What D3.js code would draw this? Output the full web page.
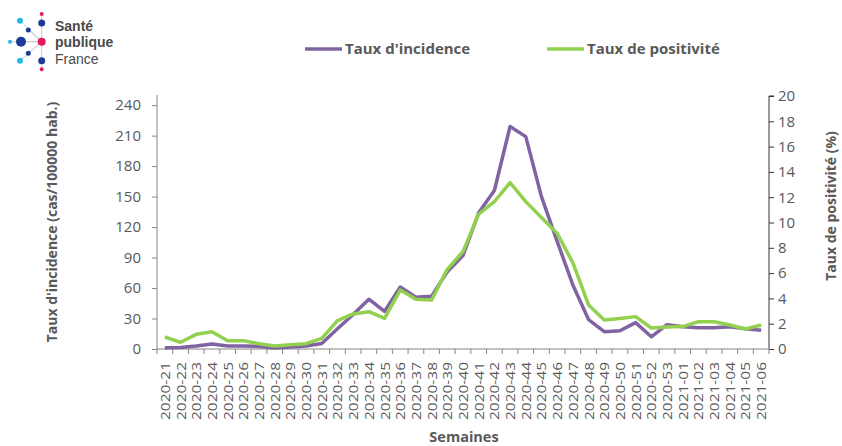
<!DOCTYPE html>
<html><head><meta charset="utf-8">
<script src="https://cdn.jsdelivr.net/npm/d3@7"></script>
<style>body{margin:0;background:#fff}svg{display:block}text{font-family:"Open Sans","DejaVu Sans",sans-serif}</style>
</head><body><svg id="c" width="842" height="446"></svg>
<script>
const weeks = ["2020-21","2020-22","2020-23","2020-24","2020-25","2020-26","2020-27","2020-28","2020-29","2020-30","2020-31","2020-32","2020-33","2020-34","2020-35","2020-36","2020-37","2020-38","2020-39","2020-40","2020-41","2020-42","2020-43","2020-44","2020-45","2020-46","2020-47","2020-48","2020-49","2020-50","2020-51","2020-52","2020-53","2021-01","2021-02","2021-03","2021-04","2021-05","2021-06"];
const incidence = [1.3,1.5,3,5,3,3,2.5,1,2,3,5.5,20,34,49,37,61,51,52,76,92,134,156,219,209,150,106,63,29,17,18,26,12,24,22,21,21,22,20,18.5];
const positivite = [0.95,0.53,1.16,1.37,0.66,0.66,0.42,0.24,0.34,0.42,0.84,2.24,2.77,2.95,2.42,4.66,3.93,3.87,6.3,7.7,10.67,11.65,13.15,11.65,10.4,9.14,6.82,3.48,2.29,2.42,2.56,1.66,1.74,1.77,2.16,2.16,1.9,1.58,1.9];
const leftTicks = [0,30,60,90,120,150,180,210,240];
const rightTicks = [0,2,4,6,8,10,12,14,16,18,20];

const svg = d3.select("#c");
const L = 157, R = 769, B = 349, T = 95;
const gray = "#595959", axisCol = "#868686";
const x = d3.scaleBand().domain(weeks).range([L, R]).padding(0);
const yL = d3.scaleLinear().domain([0, 250]).range([B, T]);
const yR = d3.scaleLinear().domain([0, 20]).range([B, T + 1]);
const cx = d => x(d) + x.bandwidth() / 2;

// left axis
const gL = svg.append("g").attr("transform", `translate(${L},0)`)
  .call(d3.axisLeft(yL).tickValues(leftTicks).tickSize(5).tickPadding(11));
gL.select(".domain").attr("stroke", axisCol).attr("d", `M-0,${B}V${T}`);
gL.selectAll(".tick line").attr("stroke", axisCol);
gL.selectAll(".tick text").attr("fill", gray).style("font-size", "15px");

// right axis
const gR = svg.append("g").attr("transform", `translate(${R},0)`)
  .call(d3.axisRight(yR).tickValues(rightTicks).tickSize(5).tickPadding(4));
gR.select(".domain").attr("stroke", "#333").attr("d", `M0,${B}V${yR(20)}H5`);
gR.selectAll(".tick line").attr("stroke", "#333");
gR.selectAll(".tick text").attr("fill", gray).style("font-size", "15px");

// bottom axis
svg.append("line").attr("x1", L).attr("x2", R).attr("y1", B).attr("y2", B).attr("stroke", axisCol);
svg.append("g").selectAll("line").data(weeks.concat(["__end"])).join("line")
  .attr("x1", d => d === "__end" ? R : x(d)).attr("x2", d => d === "__end" ? R : x(d))
  .attr("y1", B).attr("y2", B + 5).attr("stroke", axisCol);
svg.append("g").selectAll("text").data(weeks).join("text")
  .attr("transform", d => `translate(${cx(d) + 5},362) rotate(-90)`)
  .attr("text-anchor", "end").attr("fill", gray).style("font-size", "13.5px")
  .attr("textLength", 58).attr("lengthAdjust", "spacingAndGlyphs").text(d => d);

// lines
const lineL = d3.line().x((d, i) => cx(weeks[i])).y(d => yL(d));
const lineR = d3.line().x((d, i) => cx(weeks[i])).y(d => yR(d));
svg.append("path").datum(incidence).attr("d", lineL).attr("fill", "none")
  .attr("stroke", "#8064A2").attr("stroke-width", 3.5).attr("stroke-linejoin", "round");
svg.append("path").datum(positivite).attr("d", lineR).attr("fill", "none")
  .attr("stroke", "#92D050").attr("stroke-width", 3.5).attr("stroke-linejoin", "round");

// axis titles
svg.append("text").attr("transform", "translate(57,222) rotate(-90)").attr("text-anchor", "middle")
  .attr("fill", gray).style("font-size", "14px").style("font-weight", "bold").text("Taux d'incidence (cas/100000 hab.)");
svg.append("text").attr("transform", "translate(836,206) rotate(-90)").attr("text-anchor", "middle")
  .attr("fill", gray).style("font-size", "14px").style("font-weight", "bold").text("Taux de positivité (%)");
svg.append("text").attr("x", 464).attr("y", 442).attr("text-anchor", "middle")
  .attr("fill", gray).style("font-size", "14.5px").style("font-weight", "bold").text("Semaines");

// legend
const legend = [{t:"Taux d'incidence", c:"#8064A2", x:305}, {t:"Taux de positivité", c:"#92D050", x:547}];
legend.forEach(l => {
  svg.append("line").attr("x1", l.x).attr("x2", l.x + 37).attr("y1", 49).attr("y2", 49).attr("stroke", l.c).attr("stroke-width", 3.5);
  svg.append("text").attr("x", l.x + 40).attr("y", 54).attr("fill", gray).style("font-size", "15px").style("font-weight", "bold").text(l.t);
});

// logo
const lg = svg.append("g");
const dots = [[41.7,14,2,"#E6175C"],[41.7,23,3.5,"#1E3C96"],[20,20.7,3,"#29B6E8"],[28.3,30,2.5,"#1E3C96"],[10,41.7,2,"#29B6E8"],[21,41.7,5,"#1E3C96"],[41.7,41.7,4,"#E6175C"],[28.3,53.3,2.5,"#1E3C96"],[20,60.7,3,"#29B6E8"],[41.7,60.7,3.5,"#1E3C96"],[41.7,69.3,2,"#E6175C"]];
lg.append("line").attr("x1",41.7).attr("x2",41.7).attr("y1",14).attr("y2",69).attr("stroke","#ccc").attr("stroke-width",1);
dots.forEach(d => { if (d[0] !== 41.7) lg.append("line").attr("x1",41.7).attr("y1",41.7).attr("x2",d[0]).attr("y2",d[1]).attr("stroke","#ccc"); });
dots.forEach(d => lg.append("circle").attr("cx",d[0]).attr("cy",d[1]).attr("r",d[2]).attr("fill",d[3]));
const logoLines = [["Santé","bold",31],["publique","bold",47],["France","normal",63.5]];
logoLines.forEach(l => lg.append("text").attr("x",55).attr("y",l[2]).attr("fill","#4a4a4a")
  .style("font-family","'Liberation Sans',sans-serif").style("font-size","14px").style("font-weight",l[1]).text(l[0]));
</script></body></html>
